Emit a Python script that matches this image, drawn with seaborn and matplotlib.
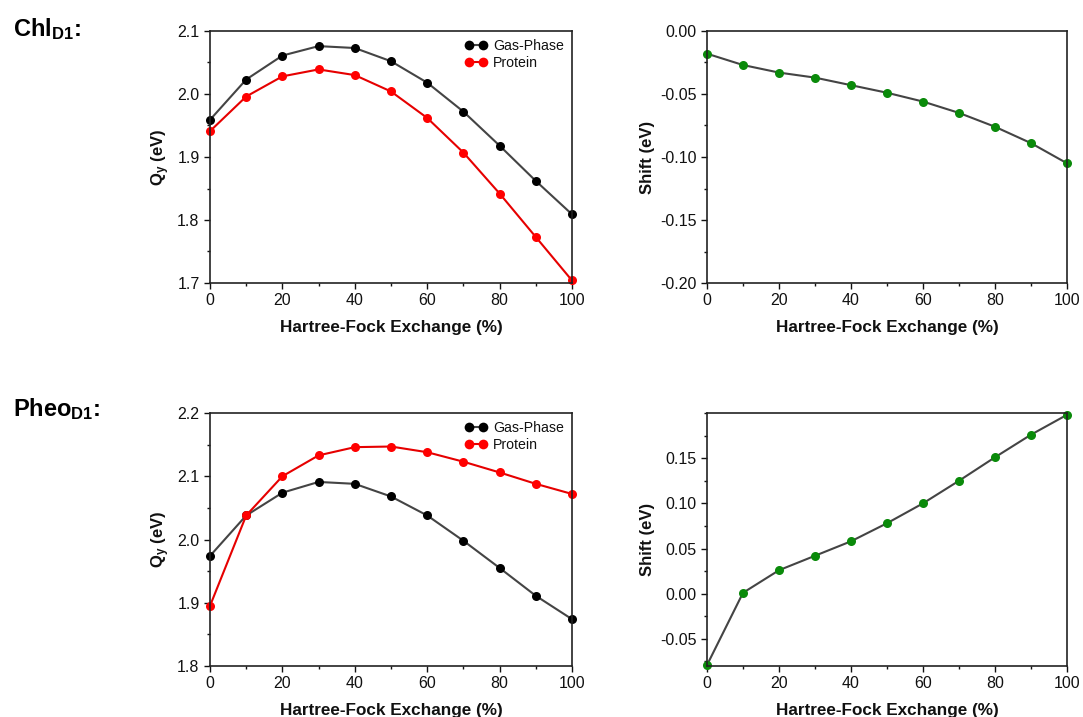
"""Qy energies and solvatochromic shifts vs. Hartree-Fock exchange."""
import pandas as pd
import seaborn as sns
import matplotlib.pyplot as plt
from matplotlib.ticker import MultipleLocator

# data
hf_exchange = [0, 10, 20, 30, 40, 50, 60, 70, 80, 90, 100]

chl_gas = [1.959, 2.023, 2.061, 2.076, 2.073, 2.052, 2.018, 1.972, 1.918, 1.862, 1.809]
chl_protein = [1.941, 1.996, 2.028, 2.039, 2.030, 2.004, 1.962, 1.907, 1.842, 1.773, 1.704]
chl_shift = [-0.018, -0.027, -0.033, -0.037, -0.043, -0.049, -0.056, -0.065, -0.076, -0.089, -0.105]

pheo_gas = [1.974, 2.038, 2.074, 2.091, 2.088, 2.068, 2.038, 1.998, 1.955, 1.911, 1.874]
pheo_protein = [1.895, 2.038, 2.100, 2.133, 2.146, 2.147, 2.138, 2.123, 2.106, 2.088, 2.072]
pheo_shift = [-0.079, 0.001, 0.026, 0.042, 0.058, 0.078, 0.100, 0.125, 0.151, 0.176, 0.198]

row_titles = [r'Chl$_{\mathbf{D1}}$:', r'Pheo$_{\mathbf{D1}}$:']

sns.set_theme(style='ticks')
plt.rcParams['font.family'] = ['Liberation Sans', 'DejaVu Sans']
plt.rcParams['mathtext.fontset'] = 'custom'
plt.rcParams['mathtext.rm'] = 'Liberation Sans'
plt.rcParams['mathtext.bf'] = 'Liberation Sans:bold'
plt.rcParams['mathtext.it'] = 'Liberation Sans:italic'
for key in ('text.color', 'axes.labelcolor', 'xtick.color', 'ytick.color'):
    plt.rcParams[key] = '#111111'

fig = plt.figure(figsize=(10.83, 7.17), dpi=100)
W, H = 1083, 717


def add_ax(x0, y0, x1, y1):
    return fig.add_axes([x0 / W, 1 - y1 / H, (x1 - x0) / W, (y1 - y0) / H])


ax1 = add_ax(210, 31, 572, 283)
ax2 = add_ax(707, 31, 1067, 283)
ax3 = add_ax(210, 413, 572, 666)
ax4 = add_ax(707, 413, 1067, 666)

line_kw = dict(marker='o', markersize=6.5, linewidth=1.5, markeredgewidth=0)


def qy_panel(ax, gas, protein, ylim, ymaj):
    df = pd.DataFrame({'HF': hf_exchange, 'Gas-Phase': gas, 'Protein': protein})
    sns.lineplot(data=df, x='HF', y='Gas-Phase', ax=ax, color='#444444',
                 markerfacecolor='black', label='Gas-Phase', **line_kw)
    sns.lineplot(data=df, x='HF', y='Protein', ax=ax, color='#e60000',
                 markerfacecolor='#ff0000', label='Protein', **line_kw)
    ax.set_ylim(*ylim)
    ax.yaxis.set_major_locator(MultipleLocator(ymaj))
    ax.yaxis.set_minor_locator(MultipleLocator(ymaj / 2))
    ax.set_ylabel(r'Q$_{\mathbf{y}}$ (eV)', fontsize=12, fontweight='bold')
    leg = ax.legend(loc='upper right', frameon=False, fontsize=10.2, numpoints=2,
                    handlelength=1.6, handletextpad=0.4, borderaxespad=0.15,
                    labelspacing=0.25)
    for h in leg.legend_handles:
        h.set_markersize(7)


def shift_panel(ax, shift, ylim, yticks):
    df = pd.DataFrame({'HF': hf_exchange, 'Shift': shift})
    sns.lineplot(data=df, x='HF', y='Shift', ax=ax, color='#444444',
                 markerfacecolor='#0a8a0a', **line_kw)
    ax.set_ylim(*ylim)
    ax.set_yticks(yticks)
    ax.yaxis.set_major_formatter(plt.FormatStrFormatter('%.2f'))
    ax.yaxis.set_minor_locator(MultipleLocator(0.025))
    ax.set_ylabel('Shift (eV)', fontsize=12, fontweight='bold')


qy_panel(ax1, chl_gas, chl_protein, (1.7, 2.1), 0.1)
qy_panel(ax3, pheo_gas, pheo_protein, (1.8, 2.2), 0.1)
shift_panel(ax2, chl_shift, (-0.2, 0.0), [0.0, -0.05, -0.10, -0.15, -0.20])
shift_panel(ax4, pheo_shift, (-0.08, 0.2), [-0.05, 0.0, 0.05, 0.10, 0.15])

for ax in (ax1, ax2, ax3, ax4):
    ax.set_xlim(0, 100)
    ax.xaxis.set_major_locator(MultipleLocator(20))
    ax.xaxis.set_minor_locator(MultipleLocator(10))
    ax.set_xlabel('Hartree-Fock Exchange (%)', fontsize=12.3, fontweight='bold',
                  labelpad=8)
    ax.tick_params(which='both', direction='out', top=False, right=False,
                   labelsize=11.5, pad=3.5)
    ax.tick_params(which='major', length=4, width=1)
    ax.tick_params(which='minor', length=2.5, width=1)
    for sp in ax.spines.values():
        sp.set_visible(True)
        sp.set_color('#222222')
        sp.set_linewidth(1.2)
    for line in ax.get_lines():
        line.set_clip_on(False)

fig.text(13 / W, 1 - 29 / H, row_titles[0], fontsize=17, fontweight='bold',
         va='center', color='black')
fig.text(13 / W, 1 - 409 / H, row_titles[1], fontsize=17, fontweight='bold',
         va='center', color='black')

plt.savefig('out.png', dpi=100)
